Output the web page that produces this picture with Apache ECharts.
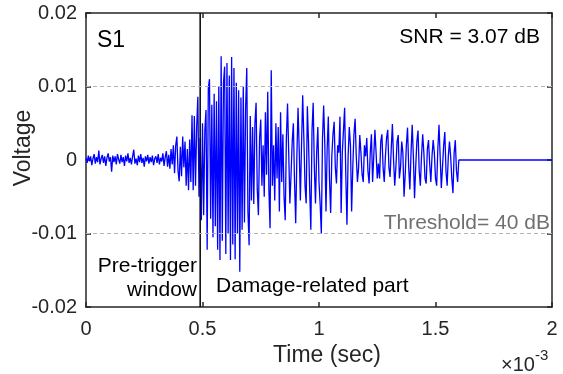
<!DOCTYPE html>
<html>
<head>
<meta charset="utf-8">
<script src="https://cdn.jsdelivr.net/npm/echarts@6/dist/echarts.min.js"></script>
<style>
  html, body { margin: 0; padding: 0; background: #fff; }
  #chart { width: 563px; height: 374px; }
</style>
</head>
<body>
<div id="chart"></div>
<script>
// sample spacing of the recorded waveform (sec)
const sampleStep = 5e-6;
// waveform, in mV, one value per sample from t = 0
const voltageMv = [
  0.3,-0.4,0.6,-0.2,0.5,-0.7,0.2,0.8,-0.5,0.4,
  -0.3,1.3,-0.6,0.2,0.7,-0.4,0.5,-0.8,0.3,0.9,
  -0.2,0.4,-1.6,0.6,-0.3,0.5,-0.6,0.8,0.1,-0.5,
  0.7,-0.3,0.4,-0.8,0.6,-0.2,0.9,-0.4,0.3,-0.6,
  0.5,1.4,-0.5,0.2,-0.7,0.6,-0.3,0.8,-0.4,0.3,
  -0.9,0.5,-0.2,0.7,-0.5,0.4,-0.3,0.6,-0.7,0.2,
  0.5,-0.4,0.8,-0.6,0.3,-0.2,0.9,-0.8,0.4,1.2,
  -0.9,0.7,-1.2,1.5,-0.6,2.0,-1.8,2.0,3.2,-1.5,
  -2.9,1.8,-2.2,3.2,-1.0,2.5,-3.5,1.5,-4.1,2.8,
  -3.0,6.1,-4.1,6.0,-3.5,4.5,8.6,-5.0,3.0,-8.2,
  5.0,-7.5,4.0,6.8,-12.2,9.8,11.0,-8.0,7.5,-10.5,
  9.0,-9.0,8.0,-12.2,10.0,-13.6,14.1,-11.0,10.5,12.7,
  -12.8,13.2,-10.0,11.5,-13.6,14.0,-11.5,12.5,-13.5,10.5,
  -10.0,9.5,-15.2,8.5,-9.5,10.0,-8.5,7.0,12.5,-7.0,
  -11.6,6.0,-5.5,4.5,-6.0,5.0,7.8,-4.0,-7.5,3.0,
  5.5,-3.5,2.0,-5.0,6.5,-2.0,9.3,-4.0,-9.3,12.2,
  -3.5,2.0,-5.5,5.0,-2.5,4.5,-7.0,6.5,-3.0,3.5,
  -5.0,-8.2,3.0,7.7,1.0,-5.9,-2.0,2.5,5.0,-3.0,
  -8.6,0.5,7.1,1.5,-5.5,2.0,8.8,3.0,-3.5,-5.9,
  7.3,2.5,-4.0,-9.5,4.0,7.8,-1.0,-5.9,1.0,4.5,
  -3.0,-6.0,-10.0,3.0,7.4,2.0,-7.0,1.5,5.9,-2.5,
  -7.2,0.5,3.5,5.2,-1.0,-3.2,2.0,1.0,5.9,-7.2,
  1.0,4.0,7.1,-2.0,-8.8,0.5,4.5,2.0,-7.0,-1.0,
  3.5,5.6,0.5,-3.0,-1.0,3.4,1.0,-2.0,-3.0,2.0,
  0.5,3.0,-1.5,-3.2,1.0,3.5,-3.0,0.5,4.1,1.0,
  -2.5,-0.5,-2.5,2.5,3.5,-1.0,-3.0,0.5,3.0,4.1,
  -1.0,-2.3,1.5,4.9,0.0,-3.5,-1.0,2.5,3.4,-2.5,
  -1.0,2.5,1.0,-5.0,-2.0,2.0,4.4,-1.0,-4.0,1.0,
  4.8,0.5,-5.2,-1.0,2.5,4.0,-1.5,-3.5,0.5,3.5,
  1.0,-2.5,-3.2,1.5,2.7,-0.5,-3.0,0.5,2.7,1.0,
  -2.5,-3.5,1.5,4.8,0.5,-3.8,-1.0,2.0,3.8,-1.5,
  -3.5,0.5,2.5,0.5,-2.5,-4.5,1.0,2.7,-1.5,-3.0,
  0.0
];
// record is flat (zero) after the signal until the end of the window
const endTime = 0.002;
const triggerTime = 0.00049;
const thresholdLevels = [0.01, -0.01];

const xTickLabels = ['0', '0.5', '1', '1.5', '2'];
const yTickLabels = ['-0.02', '-0.01', '0', '0.01', '0.02'];

const signal = voltageMv.map((v, i) => [i * sampleStep, v / 1000]);
signal.push([endTime, 0]);

const FONT = '"Liberation Sans", Arial, sans-serif';
const AX = '#262626';

const chart = echarts.init(document.getElementById('chart'), null, { renderer: 'canvas' });

const baseX = {
  type: 'value', min: 0, max: 0.002, interval: 0.0005,
  axisLine: { show: true, onZero: false, lineStyle: { color: AX, width: 1.5 } },
  axisTick: { show: true, inside: true, length: 5, lineStyle: { color: AX, width: 1.5 } },
  splitLine: { show: false }
};
const baseY = {
  type: 'value', min: -0.02, max: 0.02, interval: 0.01,
  axisLine: { show: true, onZero: false, lineStyle: { color: AX, width: 1.5 } },
  axisTick: { show: true, inside: true, length: 5, lineStyle: { color: AX, width: 1.5 } },
  splitLine: { show: false }
};

chart.setOption({
  animation: false,
  grid: { left: 86, right: 11, top: 13, bottom: 67 },
  xAxis: [
    Object.assign({}, baseX, {
      position: 'bottom',
      axisLabel: {
        margin: 12, color: AX, fontFamily: FONT, fontSize: 20,
        formatter: (v) => xTickLabels[Math.round(v / 0.0005)]
      }
    }),
    Object.assign({}, baseX, { position: 'top', axisLabel: { show: false } })
  ],
  yAxis: [
    Object.assign({}, baseY, {
      position: 'left',
      axisLabel: {
        margin: 9, color: AX, fontFamily: FONT, fontSize: 20,
        formatter: (v) => yTickLabels[Math.round((v + 0.02) / 0.01)]
      }
    }),
    Object.assign({}, baseY, { position: 'right', axisLabel: { show: false } })
  ],
  series: [
    {
      // threshold guides
      type: 'line', data: [], z: 1,
      markLine: {
        silent: true, symbol: 'none', label: { show: false },
        lineStyle: { color: '#b4b4b4', type: [4, 3], width: 1 },
        data: thresholdLevels.map((y) => ({ yAxis: y }))
      }
    },
    {
      type: 'line', data: signal, z: 2,
      showSymbol: false, symbol: 'none',
      lineStyle: { color: '#0000ff', width: 1.3 },
      silent: true
    },
    {
      // trigger boundary, full height of the axes
      type: 'line', z: 3, silent: true,
      data: [[triggerTime, -0.02], [triggerTime, 0.02]],
      showSymbol: false, symbol: 'none',
      lineStyle: { color: '#000', width: 1.5 }
    }
  ],
  graphic: [
    { type: 'text', left: 97, top: 29, style: { text: 'S1', font: '23px ' + FONT, fill: '#000' } },
    { type: 'text', right: 23, top: 27, style: { text: 'SNR = 3.07 dB', font: '21px ' + FONT, fill: '#000' } },
    { type: 'text', x: 197, y: 266, style: { text: 'Pre-trigger', font: '21px ' + FONT, fill: '#000', align: 'right', verticalAlign: 'middle' } },
    { type: 'text', x: 197, y: 290, style: { text: 'window', font: '21px ' + FONT, fill: '#000', align: 'right', verticalAlign: 'middle' } },
    { type: 'text', x: 216, y: 286, style: { text: 'Damage-related part', font: '21px ' + FONT, fill: '#000', align: 'left', verticalAlign: 'middle' } },
    { type: 'text', x: 550, y: 223, style: { text: 'Threshold= 40 dB', font: '21px ' + FONT, fill: '#707070', align: 'right', verticalAlign: 'middle' } },
    { type: 'text', x: 327, y: 356, style: { text: 'Time (sec)', font: '23px ' + FONT, fill: AX, align: 'center', verticalAlign: 'middle' } },
    { type: 'text', x: 24, y: 148, rotation: Math.PI / 2, style: { text: 'Voltage', font: '23px ' + FONT, fill: AX, align: 'center', verticalAlign: 'middle' } },
    {
      type: 'text', x: 501, y: 348,
      style: {
        text: '{b|×10}{s|-3}', fill: AX,
        rich: {
          b: { font: '20px ' + FONT, fill: AX, verticalAlign: 'bottom', padding: [7, 0, 0, 0] },
          s: { font: '15px ' + FONT, fill: AX, verticalAlign: 'top' }
        }
      }
    }
  ]
});
</script>
</body>
</html>
